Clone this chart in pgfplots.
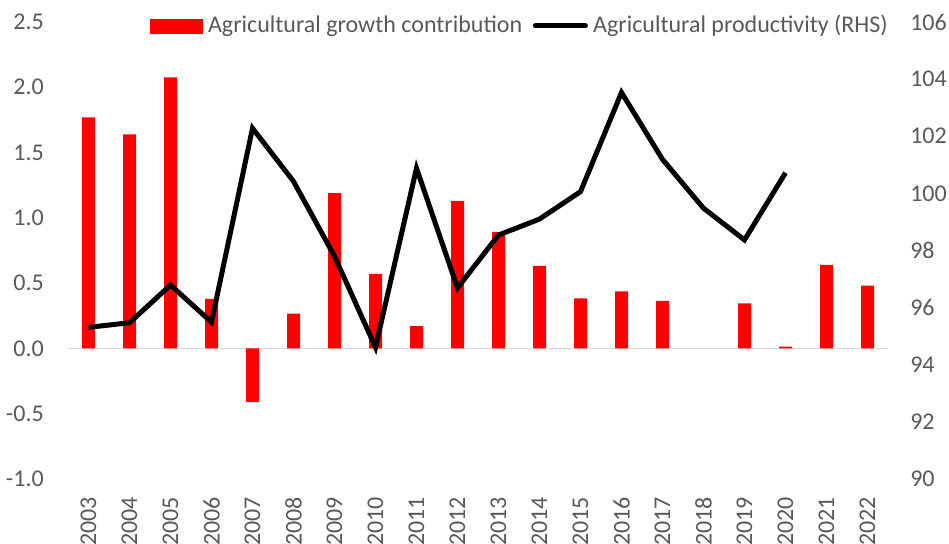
\documentclass[border=0pt]{standalone}
\usepackage{fontspec}
\setmainfont{Carlito}
\usepackage{pgfplots}
\pgfplotsset{compat=1.18}
\definecolor{txt}{HTML}{595959}
\definecolor{zl}{HTML}{D9D9D9}
\definecolor{barred}{HTML}{FF0000}
\newcommand{\chfont}{\fontsize{18pt}{21pt}\selectfont}

\begin{document}
\chfont
\begin{tikzpicture}
\pgfplotsset{
  common/.style={
    scale only axis, width=615pt, height=342.75pt,
    xmin=-0.5, xmax=19.5,
    axis line style={draw=none}, major tick length=0pt,
    tick label style={font=\chfont, text=txt, inner sep=0pt},
    /pgf/number format/assume math mode=true,
  }
}
% left axis: growth contribution bars
\begin{axis}[common,
  ymin=-1, ymax=2.5,
  ytick={-1,-0.5,0,0.5,1,1.5,2,2.5},
  yticklabel style={/pgf/number format/.cd, fixed, fixed zerofill, precision=1},
  yticklabel shift=18pt,
  xtick={0,...,19},
  xticklabels={2003,2004,2005,2006,2007,2008,2009,2010,2011,2012,2013,2014,2015,2016,2017,2018,2019,2020,2021,2022},
  xticklabel style={rotate=90, anchor=east},
  xticklabel shift=13.5pt,
  extra y ticks={0}, extra y tick labels={},
  extra y tick style={grid=major, major grid style={zl, line width=1.2pt}},
]
% 2018 has no bar
\addplot[ybar, bar width=9.75pt, fill=barred, draw=none] coordinates {
  (0,1.77) (1,1.64) (2,2.075) (3,0.38) (4,-0.41) (5,0.266) (6,1.19) (7,0.57)
  (8,0.17) (9,1.13) (10,0.89) (11,0.633) (12,0.383) (13,0.436) (14,0.365)
  (16,0.345) (17,0.013) (18,0.64) (19,0.48)
};
\coordinate (sw) at (rel axis cs:0,0);
\coordinate (ne) at (rel axis cs:1,1);
\end{axis}
% right axis: productivity line
\begin{axis}[common,
  ymin=90, ymax=106,
  ytick={90,92,...,106},
  axis y line*=right,
  yticklabel style={anchor=west},
  yticklabel shift=16.5pt,
  hide x axis,
  legend style={draw=none, fill=none, inner sep=0pt, font=\chfont, text=txt,
    at={(1,1)}, anchor=east, yshift=-3pt,
    nodes={inner sep=0pt}},
  legend columns=2,
  /tikz/every odd column/.append style={column sep=4pt},
  /tikz/every even column/.append style={column sep=8pt},
]
\addlegendimage{legend image code/.code={\fill[barred] (0pt,-5.25pt) rectangle (39pt,5.25pt);}}
\addlegendentry{Agricultural growth contribution}
\addplot[black, line width=3.75pt,
  legend image code/.code={\draw[black, line width=3.75pt, line cap=round] (1.9pt,0pt) -- (39.4pt,0pt);}]
  coordinates {
  (0,95.31) (1,95.47) (2,96.79) (3,95.49) (4,102.28) (5,100.42) (6,97.8)
  (7,94.61) (8,100.88) (9,96.69) (10,98.54) (11,99.1) (12,100.06) (13,103.53)
  (14,101.19) (15,99.48) (16,98.37) (17,100.72)
};
\addlegendentry{Agricultural productivity (RHS)}
\end{axis}
\pgfresetboundingbox
\path[use as bounding box] ([shift={(-51pt,-48.75pt)}]sw) rectangle ([shift={(45.75pt,16.5pt)}]ne);
\end{tikzpicture}
\end{document}
